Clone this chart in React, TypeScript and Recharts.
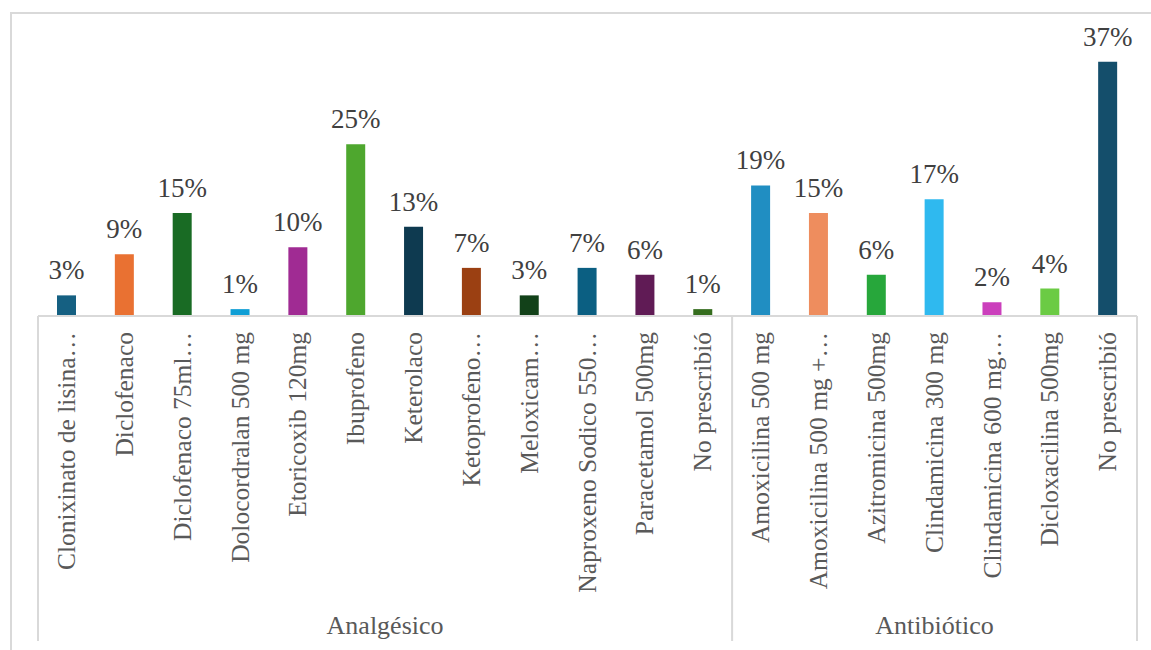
import { BarChart, Bar, XAxis, YAxis, Cell } from "recharts";

const analgesicNames = [
  "Clonixinato de lisina…",
  "Diclofenaco",
  "Diclofenaco 75ml…",
  "Dolocordralan 500 mg",
  "Etoricoxib 120mg",
  "Ibuprofeno",
  "Keterolaco",
  "Ketoprofeno…",
  "Meloxicam…",
  "Naproxeno Sodico 550…",
  "Paracetamol 500mg",
  "No prescribió",
];
const analgesicValues = [3, 9, 15, 1, 10, 25, 13, 7, 3, 7, 6, 1];

const antibioticNames = [
  "Amoxicilina 500 mg",
  "Amoxicilina 500 mg +…",
  "Azitromicina 500mg",
  "Clindamicina 300 mg",
  "Clindamicina 600 mg…",
  "Dicloxacilina 500mg",
  "No prescribió",
];
const antibioticValues = [19, 15, 6, 17, 2, 4, 37];

const groupNames = ["Analgésico", "Antibiótico"];

const barColors = [
  "#156082", "#E97132", "#196B24", "#0F9ED5", "#A02B93", "#4EA72E",
  "#0E3A50", "#9B4012", "#124119", "#0B5F82", "#601B55", "#356D1E",
  "#208EC2", "#EE8D5E", "#27A73B", "#2FB9EF", "#CB3FBC", "#6BCB44", "#144E6B",
];

const rows = [
  ...analgesicNames.map((name, i) => ({ name, value: analgesicValues[i], group: 0 })),
  ...antibioticNames.map((name, i) => ({ name, value: antibioticValues[i], group: 1 })),
];
const groupSizes = [analgesicNames.length, antibioticNames.length];

// layout
const W = 1151;
const H = 650;
const left = 38;
const right = 14;
const axisY = 316;
const bw = (W - left - right) / rows.length;
const font = '"Liberation Serif", "Times New Roman", serif';
const grid = "#d9d9d9";

function CategoryTick(props: any) {
  const { x, index } = props;
  const row = rows[index];
  const first = index === 0 || rows[index - 1].group !== row.group;
  const last = index === rows.length - 1;
  const ty = axisY + 16;
  return (
    <g>
      <text
        x={x}
        y={ty}
        dy="0.32em"
        transform={`rotate(-90 ${x} ${ty})`}
        textAnchor="end"
        fontSize={25.5}
        fontFamily={font}
        fill="#595959"
      >
        {row.name}
      </text>
      {first && (
        <line x1={x - bw / 2} x2={x - bw / 2} y1={axisY} y2={641} stroke={grid} strokeWidth={2} />
      )}
      {first && (
        <text
          x={x - bw / 2 + (groupSizes[row.group] * bw) / 2}
          y={634}
          textAnchor="middle"
          fontSize={26}
          fontFamily={font}
          fill="#595959"
        >
          {groupNames[row.group]}
        </text>
      )}
      {last && (
        <line x1={x + bw / 2} x2={x + bw / 2} y1={axisY} y2={641} stroke={grid} strokeWidth={2} />
      )}
    </g>
  );
}

function ValueLabel(props: any) {
  const { x, y, width, value } = props;
  return (
    <text
      x={x + width / 2}
      y={y - 16}
      textAnchor="middle"
      style={{ fontSize: 27, fontFamily: font, fill: "#404040" }}
    >
      {`${value}%`}
    </text>
  );
}

export default function App() {
  return (
    <div
      style={{
        position: "absolute",
        left: 0,
        top: 0,
        width: W,
        height: H,
        overflow: "hidden",
        background: "#fff",
      }}
    >
      <div
        style={{
          position: "absolute",
          left: 10,
          top: 12,
          width: W + 20,
          height: H + 20,
          border: `2px solid ${grid}`,
        }}
      />
      <div style={{ position: "absolute", left: 0, top: 0 }}>
        <BarChart
          width={W}
          height={H}
          data={rows}
          margin={{ top: 41, right, left, bottom: 0 }}
        >
          <XAxis
            dataKey="name"
            interval={0}
            height={H - axisY}
            tickLine={false}
            axisLine={{ stroke: grid, strokeWidth: 2 }}
            tick={(p: any) => <CategoryTick {...p} />}
          />
          <YAxis hide width={0} domain={[0, 40]} />
          <Bar
            dataKey="value"
            barSize={19}
            isAnimationActive={false}
            label={(p: any) => <ValueLabel {...p} />}
          >
            {rows.map((r, i) => (
              <Cell key={i} fill={barColors[i]} />
            ))}
          </Bar>
        </BarChart>
      </div>
    </div>
  );
}
